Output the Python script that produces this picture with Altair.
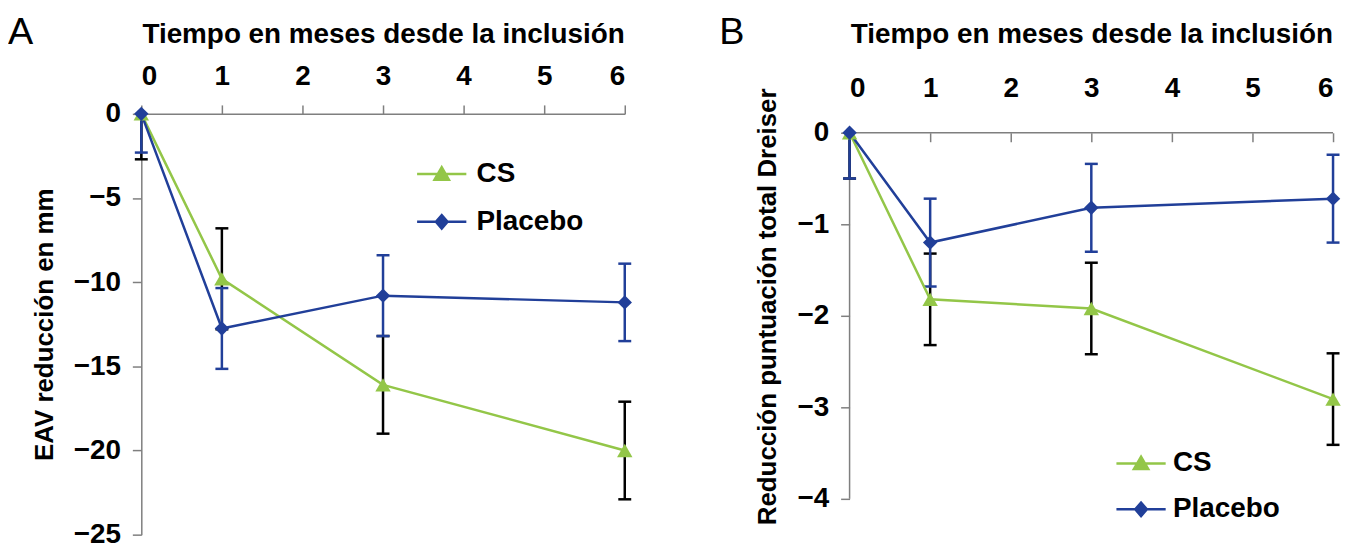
import altair as alt
import pandas as pd
import numpy as np

# ---------------- data ----------------
months = [0, 1, 3, 6]
series_names = ["CS", "Placebo"]

a_cs_mean = [0, -9.8, -16.1, -20.0]
a_cs_err = [2.7, 3.0, 2.9, 2.9]
a_pl_mean = [0, -12.75, -10.8, -11.2]
a_pl_err = [2.3, 2.4, 2.4, 2.3]

b_cs_mean = [0, -1.82, -1.92, -2.91]
b_cs_err = [0.5, 0.5, 0.5, 0.5]
b_pl_mean = [0, -1.2, -0.82, -0.72]
b_pl_err = [0.5, 0.48, 0.48, 0.48]

x_ticks = [0, 1, 2, 3, 4, 5, 6]
a_y_ticks = [0, -5, -10, -15, -20, -25]
b_y_ticks = [0, -1, -2, -3, -4]

x_title = "Tiempo en meses desde la inclusión"
a_y_title = "EAV reducción en mm"
b_y_title = "Reducción puntuación total Dreiser"

# ---------------- style ----------------
FONT = "Liberation Sans"
GREEN = "#93C648"
BLUE = "#213F99"
AXIS_GREY = "#7F7F7F"
err_colors = {"CS": "#000000", "Placebo": BLUE}
marker_shapes = {"CS": "triangle-up", "Placebo": "diamond"}
marker_colors = {"CS": GREEN, "Placebo": BLUE}
marker_sizes = {"CS": 240, "Placebo": 210}

tri_path = "M-1.1,0H1.1M-0.32,0.25L0,-0.3L0.32,0.25Z"
dia_path = "M-1.1,0H1.1M-0.26,0L0,-0.3L0.26,0L0,0.3Z"


def make_df(cs_m, cs_e, pl_m, pl_e):
    rows = []
    for name, mm, ee in [("CS", cs_m, cs_e), ("Placebo", pl_m, pl_e)]:
        for t, m, e in zip(months, mm, ee):
            rows.append({"series": name, "month": t, "mean": m, "err": e})
    df = pd.DataFrame(rows)
    df["lo"] = df["mean"] - df["err"]
    df["hi"] = np.minimum(0, df["mean"] + df["err"])
    return df


def panel(df, letter, letter_dx, y_domain, y_ticks, height, y_title,
          y_title_pad, x_offset, x_label_pad, x_title_pad, x_domain_line,
          y_domain_line, leg_x, leg_y, leg_row_pad, leg_label_off):
    xscale = alt.Scale(domain=[0, 6], nice=False, zero=False)
    yscale = alt.Scale(domain=y_domain, nice=False, zero=False)
    xaxis = alt.Axis(
        orient="top", values=x_ticks, format="d", grid=False,
        domain=x_domain_line, domainColor=AXIS_GREY, domainWidth=1.5,
        ticks=True, tickSize=9, tickColor=AXIS_GREY, tickWidth=1.5,
        offset=x_offset,
        labelFont=FONT, labelFontSize=28, labelFontWeight="bold",
        labelColor="black", labelPadding=x_label_pad,
        title=x_title, titleFont=FONT, titleFontSize=28,
        titleFontWeight="bold", titleColor="black", titlePadding=x_title_pad,
    )
    yaxis = alt.Axis(
        orient="left", values=y_ticks, grid=False,
        domain=y_domain_line, domainColor=AXIS_GREY, domainWidth=1.5,
        ticks=True, tickSize=9, tickColor=AXIS_GREY, tickWidth=1.5,
        labelFont=FONT, labelFontSize=28, labelFontWeight="bold",
        labelColor="black", labelPadding=12,
        title=y_title, titleFont=FONT, titleFontSize=26,
        titleFontWeight="bold", titleColor="black", titlePadding=y_title_pad,
    )

    def X(field="month"):
        return alt.X(f"{field}:Q", scale=xscale, axis=xaxis)

    def Y(field):
        return alt.Y(f"{field}:Q", scale=yscale, axis=yaxis)

    base = alt.Chart(df)
    layers = []

    # axis lines drawn from the scales where the axis domain is hidden
    if not x_domain_line:
        layers.append(
            base.transform_filter("datum.month == 0 && datum.series == 'CS'")
            .mark_rule(color=AXIS_GREY, strokeWidth=1.5).encode(
                x=alt.datum(0, scale=xscale, axis=xaxis),
                x2=alt.datum(6),
                y=alt.datum(0, scale=yscale, axis=yaxis),
            )
        )
    if not y_domain_line:
        layers.append(
            base.transform_filter("datum.month == 0 && datum.series == 'CS'")
            .mark_rule(color=AXIS_GREY, strokeWidth=1.5).encode(
                x=alt.datum(0, scale=xscale, axis=xaxis),
                y=alt.datum(0, scale=yscale, axis=yaxis),
                y2=alt.datum(y_domain[0]),
            )
        )

    # error bars
    for name in series_names:
        c = err_colors[name]
        sub = base.transform_filter(f"datum.series == '{name}'")
        layers.append(sub.mark_rule(color=c, strokeWidth=2.5).encode(
            x=X(), y=Y("lo"), y2="hi:Q"))
        layers.append(sub.mark_tick(color=c, orient="horizontal", size=13,
                                    thickness=2.5, opacity=1).encode(
            x=X(), y=Y("lo")))
        layers.append(sub.transform_filter("datum.hi < 0").mark_tick(
            color=c, orient="horizontal", size=13, thickness=2.5,
            opacity=1).encode(x=X(), y=Y("hi")))

    # lines
    for name in series_names:
        layers.append(base.transform_filter(f"datum.series == '{name}'")
                      .mark_line(strokeWidth=2.5, color=marker_colors[name])
                      .encode(x=X(), y=Y("mean")))

    # legend layer: invisible marks, legend symbols = line + marker
    leg = alt.Legend(
        title=None, orient="none", legendX=leg_x, legendY=leg_y,
        symbolSize=2025, symbolStrokeWidth=2.5, symbolOpacity=1,
        labelFont=FONT, labelFontSize=28, labelFontWeight="bold",
        labelColor="black", labelOffset=leg_label_off, rowPadding=leg_row_pad,
        padding=0, labelLimit=400,
    )
    layers.append(base.mark_point(filled=True, strokeWidth=2.5).encode(
        x=X(), y=Y("mean"),
        opacity=alt.value(0),
        fill=alt.Fill("series:N", scale=alt.Scale(domain=series_names,
                      range=[GREEN, BLUE]), legend=leg),
        stroke=alt.Stroke("series:N", scale=alt.Scale(domain=series_names,
                          range=[GREEN, BLUE]), legend=leg),
        shape=alt.Shape("series:N", scale=alt.Scale(domain=series_names,
                        range=[tri_path, dia_path]), legend=leg),
    ))

    # markers
    for name in series_names:
        layers.append(base.transform_filter(f"datum.series == '{name}'")
                      .mark_point(filled=True, opacity=1,
                                  shape=marker_shapes[name],
                                  size=marker_sizes[name],
                                  color=marker_colors[name])
                      .encode(x=X(), y=Y("mean")))

    return alt.layer(*layers).properties(
        width=486, height=height,
        title=alt.TitleParams(
            text=letter, anchor="start", frame="group", orient="top",
            font=FONT, fontSize=38, fontWeight="normal", color="black",
            dx=letter_dx, dy=62, offset=0, baseline="alphabetic",
        ),
    )


df_a = make_df(a_cs_mean, a_cs_err, a_pl_mean, a_pl_err)
df_b = make_df(b_cs_mean, b_cs_err, b_pl_mean, b_pl_err)

chart_a = panel(df_a, "A", -134, [-25, 0], a_y_ticks, 423, a_y_title,
                16, 0, 15, 14, True, True, 278, 36.5, 10, 11)
chart_b = panel(df_b, "B", -131, [-4, 0.2065], b_y_ticks, 387, b_y_title,
                17, -28, 30, 27, False, False, 269, 327.5, 8, 8)

chart = alt.hconcat(chart_a, chart_b, spacing=87).resolve_scale(
    shape="independent", fill="independent",
    stroke="independent", x="independent", y="independent",
).resolve_legend(
    fill="independent", stroke="independent", shape="independent",
).properties(
    padding={"left": 0, "top": 5, "right": 0, "bottom": 0},
    background="white",
).configure_view(strokeWidth=0)

chart.save("out.html", embed_options={"renderer": "svg", "actions": False})
